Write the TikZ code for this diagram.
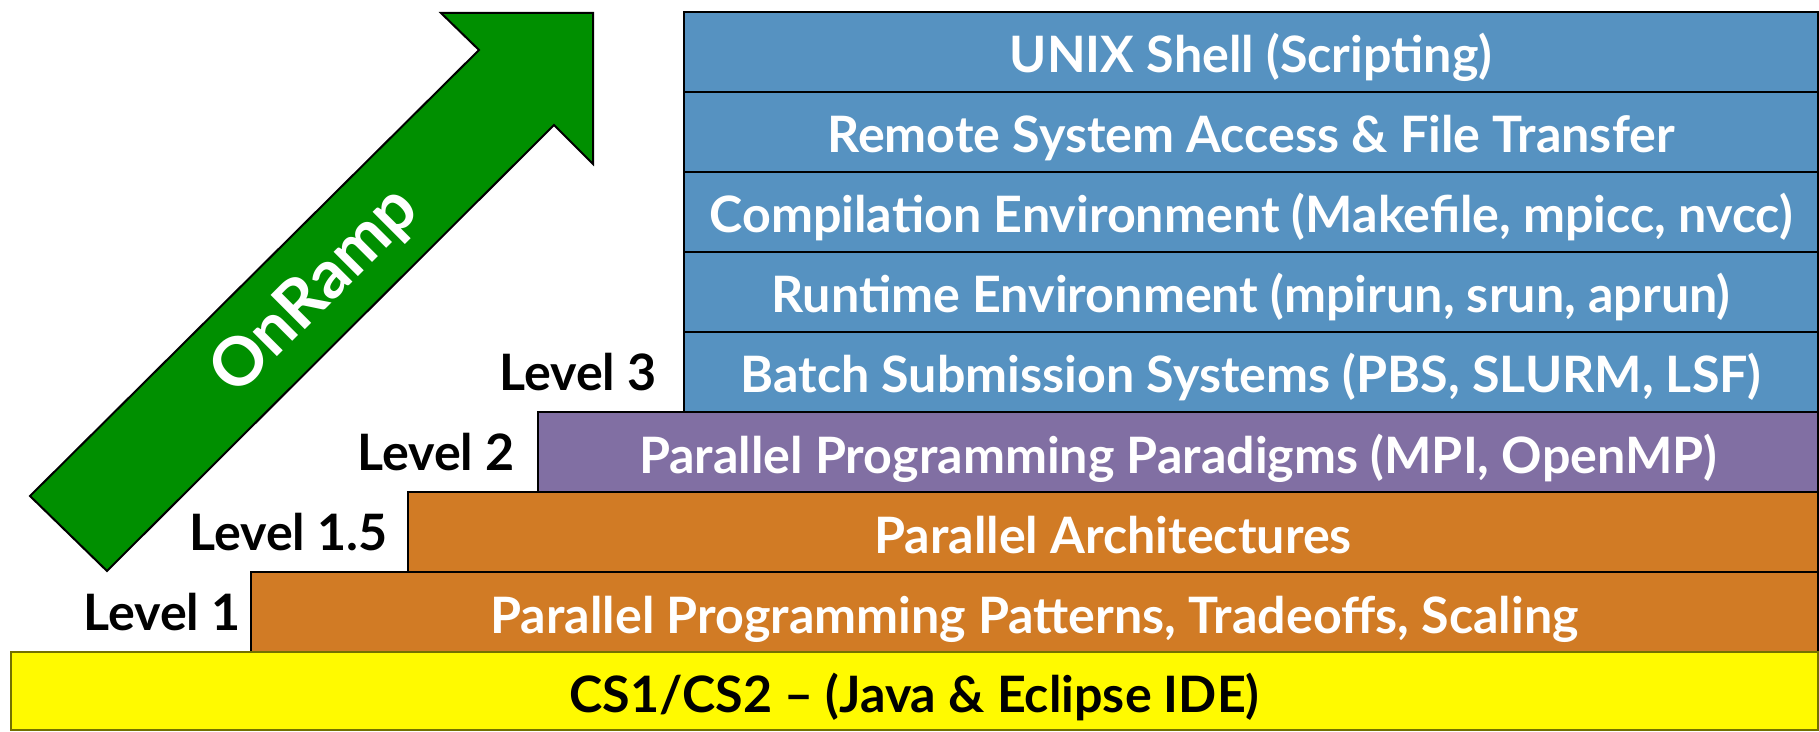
\documentclass[tikz,border=0pt]{standalone}
\usepackage{fontspec}
\setmainfont{Lato}
\usepackage{tikz}
\usetikzlibrary{positioning}

\definecolor{rampgreen}{RGB}{0,143,0}
\definecolor{rowblue}{RGB}{86,146,193}
\definecolor{rowpurple}{RGB}{129,111,163}
\definecolor{roworange}{RGB}{209,123,37}
\definecolor{rowyellow}{RGB}{255,250,0}

\newcommand{\rowfont}{\fontsize{25.1pt}{30pt}\selectfont\bfseries}
\newcommand{\rampfont}{\fontsize{33.5pt}{40pt}\selectfont\bfseries}

\tikzset{
  row/.style={draw=black, line width=1pt, minimum height=40pt, inner sep=0pt,
    outer sep=0pt, text height=21pt, text depth=0pt, font=\rowfont, text=white},
  bluerow/.style={row, fill=rowblue, minimum width=567pt},
  purplerow/.style={row, fill=rowpurple, minimum width=640pt},
  orangerow/.style={row, fill=roworange},
  yellowrow/.style={row, fill=rowyellow, draw=black!55!rowyellow,
    minimum width=903.5pt, minimum height=39pt, text=black},
  levellabel/.style={inner sep=0pt, font=\rowfont, text=black},
  rampline/.style={draw=black, line width=1pt, fill=rampgreen, line join=miter},
  ramptext/.style={font=\rampfont, text=white, inner sep=0pt}
}

\begin{document}
\begin{tikzpicture}[x=0.5pt,y=-0.5pt]
  \useasboundingbox (0,0) rectangle (1819,732);
  % the OnRamp arrow
  \draw[rampline] (30,496) -- (479,50) -- (441,13) -- (593,13) -- (593,164)
    -- (554,125) -- (107,571) -- cycle;
  \node[ramptext, rotate=45] (onramp) at (316,292) {OnRamp};
  % level 3 stack
  \node[bluerow, anchor=north east] (shell) at (1818,12) {UNIX Shell (Scripting)};
  \node[bluerow, below=0pt of shell] (remote) {Remote System Access \& File Transfer};
  \node[bluerow, below=0pt of remote] (compile) {Compilation Environment (Makefile, mpicc, nvcc)};
  \node[bluerow, below=0pt of compile] (runtime) {Runtime Environment (mpirun, srun, aprun)};
  \node[bluerow, below=0pt of runtime] (batch) {Batch Submission Systems (PBS, SLURM, LSF)};
  % lower steps
  \node[purplerow, anchor=north east] (paradigms) at (batch.south east) {Parallel Programming Paradigms (MPI, OpenMP)};
  \node[orangerow, minimum width=705pt, anchor=north east] (arch) at (paradigms.south east) {Parallel Architectures};
  \node[orangerow, minimum width=783.5pt, anchor=north east] (patterns) at (arch.south east) {Parallel Programming Patterns, Tradeoffs, Scaling};
  \node[yellowrow, anchor=north east] (cs) at (patterns.south east) {CS1/CS2 -- (Java \& Eclipse IDE)};
  % level labels
  \node[levellabel, left=13.5pt of batch] (lvlthree) {Level 3};
  \node[levellabel, left=11.5pt of paradigms] (lvltwo) {Level 2};
  \node[levellabel, left=10pt of arch] (lvlonehalf) {Level 1.5};
  \node[levellabel, left=5pt of patterns] (lvlone) {Level 1};
\end{tikzpicture}
\end{document}
